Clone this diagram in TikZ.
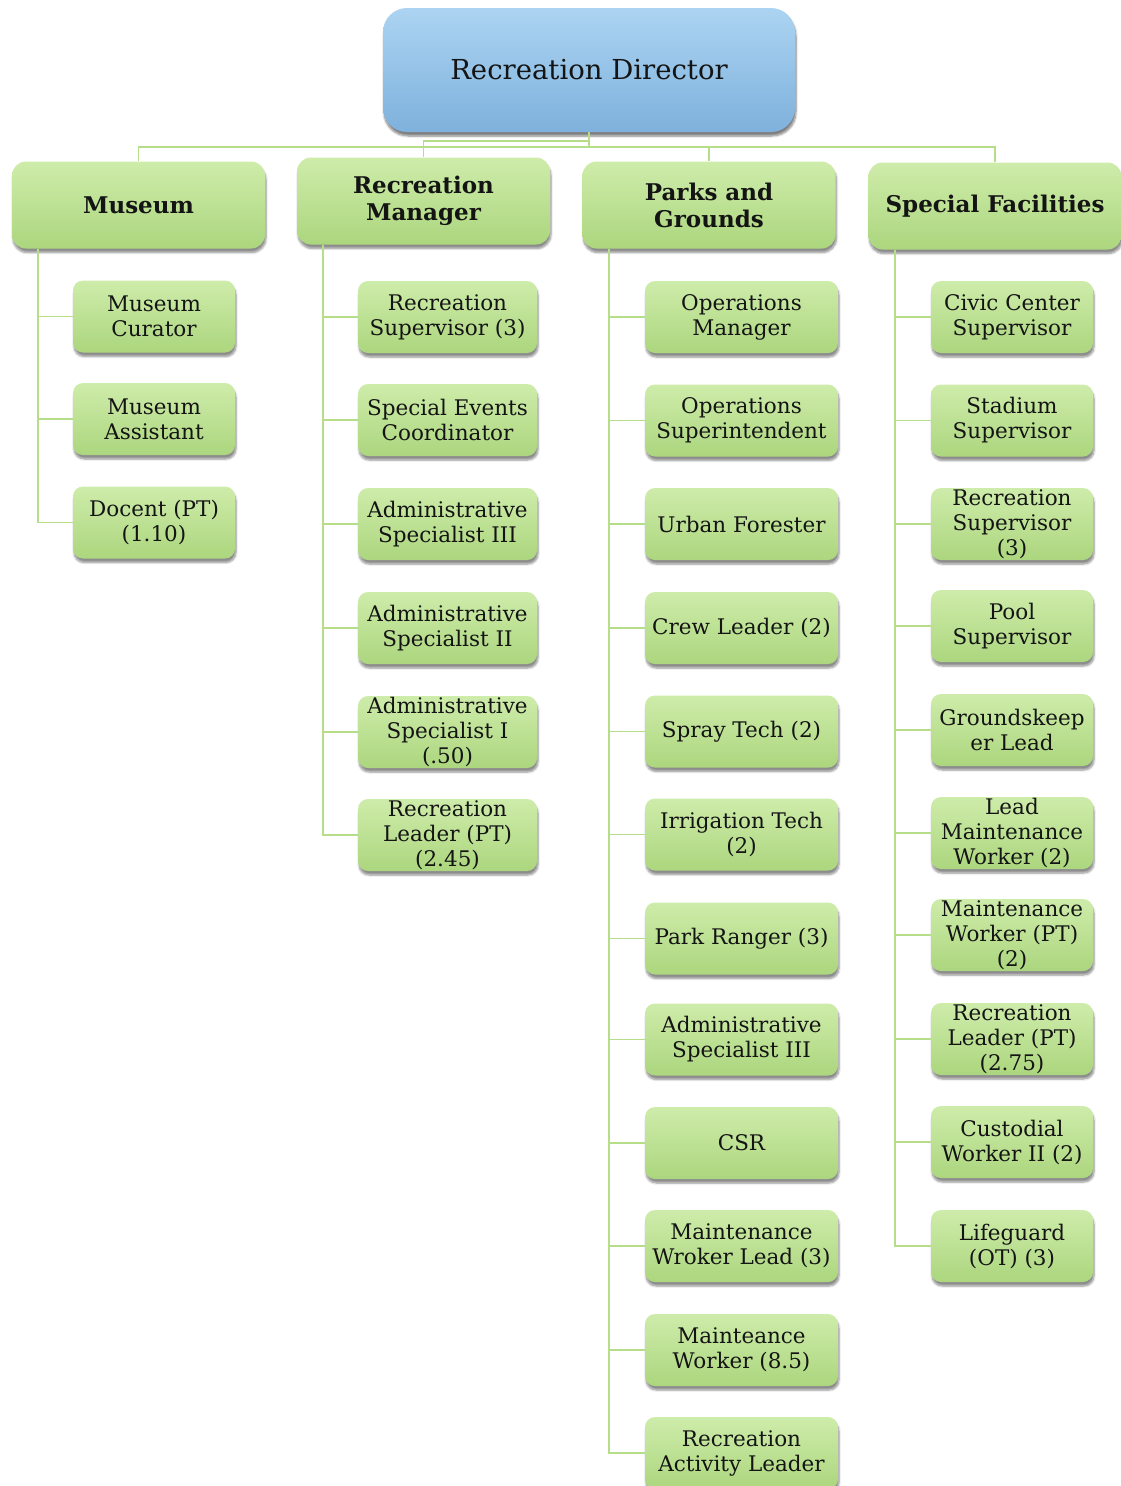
\documentclass[tikz,border=0pt]{standalone}
\usepackage{fontspec}
\setmainfont{DejaVu Serif}
\usetikzlibrary{shadows.blur}
\definecolor{gtop}{RGB}{206,236,170}
\definecolor{gbot}{RGB}{172,214,126}
\definecolor{btop}{RGB}{172,212,242}
\definecolor{bbot}{RGB}{126,177,220}
\definecolor{wire}{RGB}{182,222,136}
\definecolor{ink}{RGB}{20,20,20}
\tikzset{
  gbox/.style={rounded corners=10pt, top color=gtop, bottom color=gbot, draw=none,
    blur shadow={shadow xshift=1pt, shadow yshift=-4pt, shadow blur steps=6, shadow opacity=45},
    align=center, text=ink, inner sep=0pt, font=\fontsize{21.5}{25}\selectfont},
  head/.style={gbox, rounded corners=14pt, minimum width=253pt, minimum height=87pt,
    font=\fontsize{23}{27}\selectfont\bfseries},
  kid/.style={gbox, minimum height=72pt},
  mcol/.style={kid, minimum width=162pt},
  rcol/.style={kid, minimum width=179pt},
  pcol/.style={kid, minimum width=193pt},
  scol/.style={kid, minimum width=162pt},
  topbox/.style={rounded corners=24pt, top color=btop, bottom color=bbot, draw=none,
    blur shadow={shadow xshift=1pt, shadow yshift=-4pt, shadow blur steps=6, shadow opacity=50},
    minimum width=412pt, minimum height=124pt, text=ink, font=\fontsize{27.5}{32}\selectfont},
  link/.style={draw=wire, line width=1.8pt}
}
\begin{document}
\begin{tikzpicture}[x=1pt,y=-1pt]
\useasboundingbox (0,0) rectangle (1120,1486);

% director
\node[topbox] (dir) at (589,70) {Recreation Director};

% division heads
\node[head] (mus) at (138.5,205) {Museum};
\node[head] (rm)  at (423.5,201) {Recreation\\Manager};
\node[head] (pg)  at (709,205)   {Parks and\\Grounds};
\node[head] (sf)  at (995,206)   {Special Facilities};

% museum staff
\node[mcol] (m1) at (154,316.5) {Museum\\Curator};
\node[mcol] (m2) at (154,419)   {Museum\\Assistant};
\node[mcol] (m3) at (154,522.5) {Docent (PT)\\(1.10)};

% recreation staff
\node[rcol] (r1) at (447.5,317) {Recreation\\Supervisor (3)};
\node[rcol] (r2) at (447.5,420) {Special Events\\Coordinator};
\node[rcol] (r3) at (447.5,524) {Administrative\\Specialist III};
\node[rcol] (r4) at (447.5,628) {Administrative\\Specialist II};
\node[rcol] (r5) at (447.5,732) {Administrative\\Specialist I\\(.50)};
\node[rcol] (r6) at (447.5,835) {Recreation\\Leader (PT)\\(2.45)};

% parks staff
\node[pcol] (p1)  at (741.5,317)    {Operations\\Manager};
\node[pcol] (p2)  at (741.5,420.5)  {Operations\\Superintendent};
\node[pcol] (p3)  at (741.5,524)    {Urban Forester};
\node[pcol] (p4)  at (741.5,628)    {Crew Leader (2)};
\node[pcol] (p5)  at (741.5,731.5)  {Spray Tech (2)};
\node[pcol] (p6)  at (741.5,834.5)  {Irrigation Tech\\(2)};
\node[pcol] (p7)  at (741.5,938.5)  {Park Ranger (3)};
\node[pcol] (p8)  at (741.5,1039.5) {Administrative\\Specialist III};
\node[pcol] (p9)  at (741.5,1143)   {CSR};
\node[pcol] (p10) at (741.5,1246)   {Maintenance\\Wroker Lead (3)};
\node[pcol] (p11) at (741.5,1350)   {Mainteance\\Worker (8.5)};
\node[pcol] (p12) at (741.5,1453)   {Recreation\\Activity Leader};

% special facilities staff
\node[scol] (s1)  at (1012,317)   {Civic Center\\Supervisor};
\node[scol] (s2)  at (1012,420.5) {Stadium\\Supervisor};
\node[scol] (s3)  at (1012,524)   {Recreation\\Supervisor\\(3)};
\node[scol] (s4)  at (1012,626)   {Pool\\Supervisor};
\node[scol] (s5)  at (1012,730)   {Groundskeep\\er Lead};
\node[scol] (s6)  at (1012,833)   {Lead\\Maintenance\\Worker (2)};
\node[scol] (s7)  at (1012,935)   {Maintenance\\Worker (PT)\\(2)};
\node[scol] (s8)  at (1012,1039)  {Recreation\\Leader (PT)\\(2.75)};
\node[scol] (s9)  at (1012,1142)  {Custodial\\Worker II (2)};
\node[scol] (s10) at (1012,1246)  {Lifeguard\\(OT) (3)};

% director to division heads
\draw[link] (dir.south) -- ++(0,15) -| (mus.north);
\draw[link] (dir.south) -- ++(0,15) -| (pg.north);
\draw[link] (dir.south) -- ++(0,15) -| (sf.north);
\draw[link] (dir.south) -- ++(0,9) -| (rm.north);

% column trunks
\coordinate (mt) at (38,248.5);
\coordinate (rt) at (323,245);
\coordinate (pt) at (609,248.5);
\coordinate (st) at (895,250);

\foreach \c in {m1,m2,m3} \draw[link] (mt) |- (\c.west);
\foreach \c in {r1,r2,r3,r4,r5,r6} \draw[link] (rt) |- (\c.west);
\foreach \c in {p1,p2,p3,p4,p5,p6,p7,p8,p9,p10,p11,p12} \draw[link] (pt) |- (\c.west);
\foreach \c in {s1,s2,s3,s4,s5,s6,s7,s8,s9,s10} \draw[link] (st) |- (\c.west);
\end{tikzpicture}
\end{document}
